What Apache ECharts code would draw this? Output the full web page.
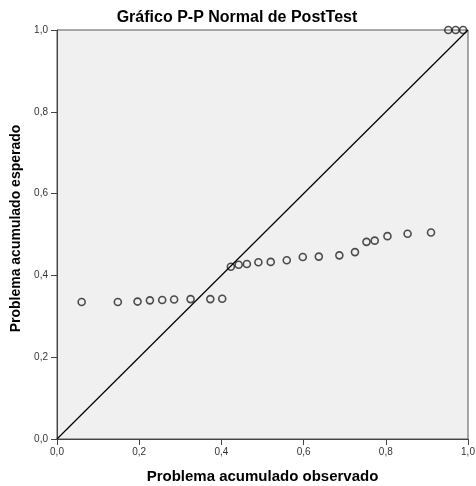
<!DOCTYPE html>
<html>
<head>
<meta charset="utf-8"/>
<title>Gráfico P-P Normal de PostTest</title>
<script src="https://cdn.jsdelivr.net/npm/echarts@6/dist/echarts.min.js"></script>
<style>
body{margin:0;background:#fff}
#main{width:476px;height:486px}
</style>
</head>
<body>
<div id="main"></div>
<script>
// probabilidad acumulada observada / esperada
var observed = [0.060, 0.148, 0.196, 0.226, 0.256, 0.285, 0.325, 0.373, 0.402,
                0.423, 0.442, 0.462, 0.490, 0.520, 0.559, 0.598, 0.637, 0.687, 0.725,
                0.753, 0.773, 0.804, 0.853, 0.910, 0.952, 0.970, 0.988];
var expected = [0.335, 0.335, 0.336, 0.339, 0.340, 0.341, 0.342, 0.342, 0.343,
                0.421, 0.426, 0.428, 0.432, 0.433, 0.437, 0.445, 0.446, 0.449, 0.457,
                0.482, 0.485, 0.496, 0.502, 0.505, 1.000, 1.000, 1.000];
var diagonal = [[0, 0], [1, 1]];

var points = [];
for (var i = 0; i < observed.length; i++) {
    points.push([observed[i], expected[i]]);
}

function fmt(v) {
    return v.toFixed(1).replace('.', ',');
}

var myChart = echarts.init(document.getElementById('main'));

var nameStyle = {fontFamily: 'Liberation Sans', fontWeight: 'bold', fontSize: 15, color: '#000'};
var labelStyle = {fontFamily: 'Liberation Sans', fontSize: 10, color: '#333', formatter: fmt};

var option = {
    animation: false,
    title: {
        text: 'Gráfico P-P Normal de PostTest',
        left: 232, top: 5, textAlign: 'center',
        textStyle: {fontFamily: 'Liberation Sans', fontWeight: 'bold', fontSize: 16, color: '#000'}
    },
    grid: {
        left: 57, right: 8, top: 30, bottom: 47,
        outerBoundsMode: 'none',
        containLabel: false,
        show: true, backgroundColor: '#f0f0f0', borderColor: '#555', borderWidth: 1
    },
    xAxis: {
        type: 'value', min: 0, max: 1, interval: 0.2,
        name: 'Problema acumulado observado',
        nameLocation: 'middle', nameGap: 30, nameTextStyle: nameStyle,
        axisLine: {show: true, onZero: false, lineStyle: {color: '#444', width: 1}},
        axisTick: {show: true, length: 6, lineStyle: {color: '#444'}},
        axisLabel: Object.assign({margin: 8}, labelStyle),
        splitLine: {show: false}
    },
    yAxis: {
        type: 'value', min: 0, max: 1, interval: 0.2,
        name: 'Problema acumulado esperado',
        nameLocation: 'middle', nameGap: 31,
        nameTextStyle: Object.assign({}, nameStyle, {fontSize: 14, padding: [0, 0, 0, 12]}),
        axisLine: {show: true, onZero: false, lineStyle: {color: '#444', width: 1}},
        axisTick: {show: true, length: 6, lineStyle: {color: '#444'}},
        axisLabel: Object.assign({margin: 9}, labelStyle),
        splitLine: {show: false}
    },
    series: [
        {
            type: 'line',
            data: diagonal,
            symbol: 'none',
            silent: true,
            lineStyle: {color: '#000', width: 1.2}
        },
        {
            type: 'scatter',
            data: points,
            symbol: 'circle',
            symbolSize: 7,
            itemStyle: {color: 'rgba(0,0,0,0)', borderColor: '#222', borderWidth: 1.6}
        }
    ]
};

myChart.setOption(option);
</script>
</body>
</html>
